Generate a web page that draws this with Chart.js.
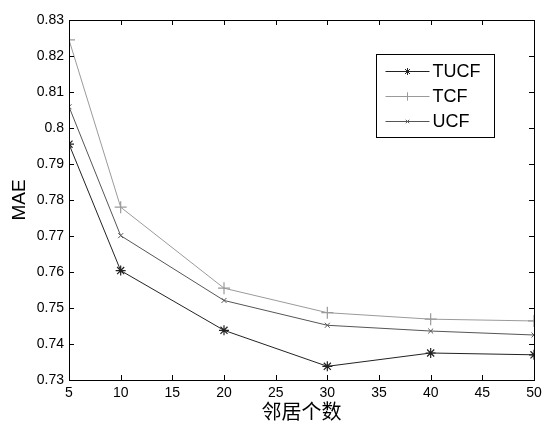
<!DOCTYPE html>
<html>
<head>
<meta charset="utf-8">
<script src="https://cdn.jsdelivr.net/npm/chart.js@4/dist/chart.umd.min.js"></script>
<style>
html,body{margin:0;padding:0;background:#fff;}
#wrap{width:542px;height:426px;position:relative;}
</style>
</head>
<body>
<div id="wrap"><canvas id="c" width="542" height="426"></canvas></div>
<script>
const neighbors = [5, 10, 20, 30, 40, 50];
const tucf = [0.7955, 0.7604, 0.7438, 0.7338, 0.7375, 0.7370];
const tcf  = [0.8245, 0.7780, 0.7555, 0.7487, 0.7469, 0.7464];
const ucf  = [0.8059, 0.7701, 0.7521, 0.7452, 0.7436, 0.7425];
const xTicks = [5, 10, 15, 20, 25, 30, 35, 40, 45, 50];
const yTicks = [0.73, 0.74, 0.75, 0.76, 0.77, 0.78, 0.79, 0.8, 0.81, 0.82, 0.83];
const seriesNames = ['TUCF', 'TCF', 'UCF'];

const tickFont = {family: 'Liberation Sans, Arial, sans-serif', size: 14};

function pts(vals){ return neighbors.map((x,i)=>({x:x, y:vals[i]})); }

const boxPlugin = {
  id: 'matlabBox',
  afterDraw(chart){
    const ctx = chart.ctx, a = chart.chartArea;
    const xs = chart.scales.x, ys = chart.scales.y;
    ctx.save();
    ctx.strokeStyle = '#000';
    ctx.lineWidth = 1;
    ctx.strokeRect(Math.round(a.left)+0.5, Math.round(a.top)+0.5, Math.round(a.right-a.left), Math.round(a.bottom-a.top));
    const L = 5;
    ctx.beginPath();
    xTicks.forEach(v=>{
      const px = Math.round(xs.getPixelForValue(v))+0.5;
      ctx.moveTo(px, a.bottom); ctx.lineTo(px, a.bottom-L);
      ctx.moveTo(px, a.top); ctx.lineTo(px, a.top+L);
    });
    yTicks.forEach(v=>{
      const py = Math.round(ys.getPixelForValue(v))+0.5;
      ctx.moveTo(a.left, py); ctx.lineTo(a.left+L, py);
      ctx.moveTo(a.right, py); ctx.lineTo(a.right-L, py);
    });
    ctx.stroke();

    // legend
    const lx = 376.5, ly = 54.5, lw = 118, lh = 83;
    ctx.fillStyle = '#fff';
    ctx.fillRect(lx, ly, lw, lh);
    ctx.strokeStyle = '#000';
    ctx.strokeRect(lx, ly, lw, lh);
    ctx.font = '18px "Liberation Sans", Arial, sans-serif';
    ctx.textBaseline = 'middle';
    chart.data.datasets.forEach((ds,i)=>{
      const cy = ly + 17 + i*25;
      ctx.strokeStyle = ds.borderColor;
      ctx.lineWidth = 1;
      ctx.beginPath();
      ctx.moveTo(lx+9, cy); ctx.lineTo(lx+53, cy);
      ctx.stroke();
      Chart.helpers.drawPoint(ctx, {pointStyle: ds.pointStyle, radius: ds.pointRadius*0.7, borderWidth: 1}, lx+31, cy);
      ctx.fillStyle = '#000';
      ctx.fillText(ds.label, lx+56, cy+1);
    });
    ctx.restore();
  }
};

new Chart(document.getElementById('c'), {
  type: 'line',
  data: {
    datasets: [
      {label: seriesNames[0], data: pts(tucf), borderColor: '#222', backgroundColor: '#222', pointStyle: 'star', pointRadius: 5, pointBorderWidth: 1.2, borderWidth: 1},
      {label: seriesNames[1], data: pts(tcf), borderColor: '#9a9a9a', backgroundColor: '#9a9a9a', pointStyle: 'cross', pointRadius: 6, pointBorderWidth: 1.2, borderWidth: 1},
      {label: seriesNames[2], data: pts(ucf), borderColor: '#555', backgroundColor: '#555', pointStyle: 'crossRot', pointRadius: 3.5, pointBorderWidth: 1, borderWidth: 1}
    ]
  },
  options: {
    responsive: false,
    animation: false,
    devicePixelRatio: 1,
    layout: {padding: {top: 20, right: 8, left: 0, bottom: 0}},
    plugins: {legend: {display: false}, tooltip: {enabled: false}},
    elements: {line: {tension: 0}},
    scales: {
      x: {
        type: 'linear', min: 5, max: 50,
        afterBuildTicks(s){ s.ticks = xTicks.map(v=>({value:v})); },
        afterFit(s){ s.height = 46; s.paddingLeft = 0; s.paddingRight = 0; },
        grid: {display: false, drawTicks: false, tickLength: 0},
        border: {display: false},
        ticks: {color: '#000', font: tickFont, padding: 5, maxRotation: 0,
          callback: v => String(v)},
        title: {display: true, text: '邻居个数', color: '#000',
          font: {family: '"Noto Sans CJK SC", sans-serif', size: 20}, padding: {top: 0, bottom: 3}}
      },
      y: {
        type: 'linear', min: 0.73, max: 0.83,
        afterBuildTicks(s){ s.ticks = yTicks.map(v=>({value:v})); },
        afterFit(s){ s.width = 69; s.paddingTop = 0; s.paddingBottom = 0; },
        grid: {display: false, drawTicks: false, tickLength: 0},
        border: {display: false},
        ticks: {color: '#000', font: tickFont, padding: 5,
          callback: v => String(Number(v.toFixed(2)))},
        title: {display: true, text: 'MAE', color: '#000',
          font: {family: '"Liberation Sans", Arial, sans-serif', size: 19}, padding: {top: 8, bottom: 0}}
      }
    }
  },
  plugins: [boxPlugin]
});
</script>
</body>
</html>
